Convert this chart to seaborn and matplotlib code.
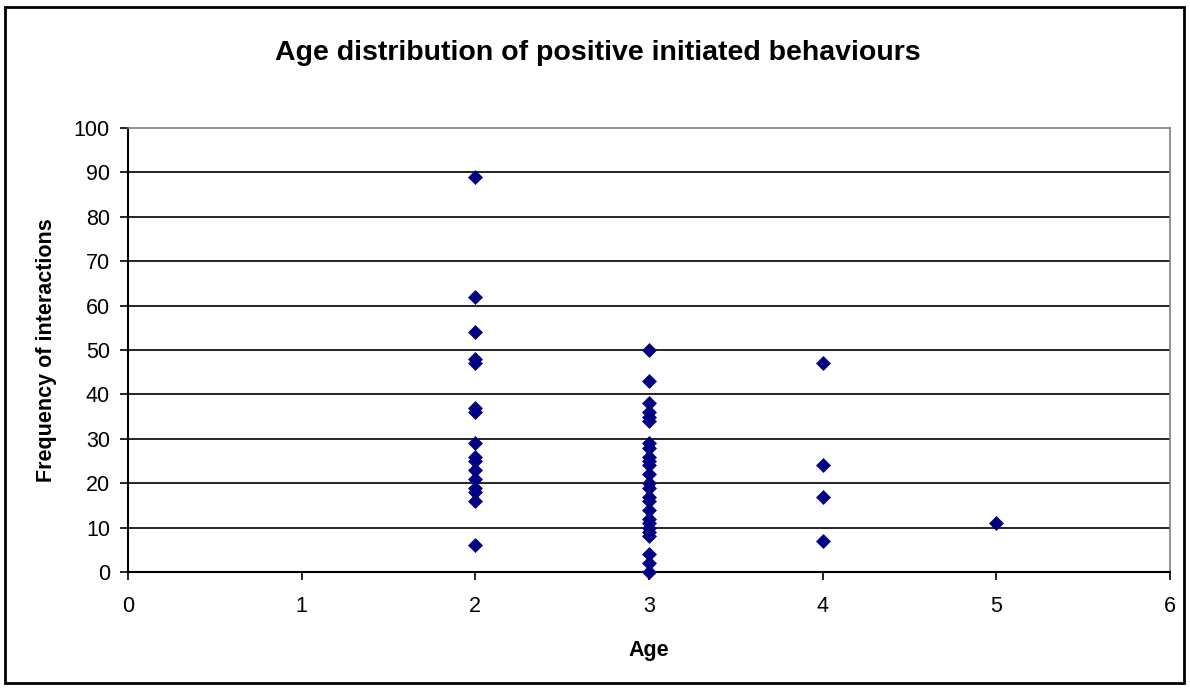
import matplotlib
matplotlib.use("Agg")
import matplotlib.pyplot as plt
from matplotlib.patches import Rectangle
import seaborn as sns
import pandas as pd

# ---- data ----
age2 = [89, 62, 54, 48, 47, 37, 36, 29, 26, 25, 23, 21, 19, 18, 16, 6]
age3 = [50, 43, 38, 36, 35, 34, 29, 28, 26, 25, 24, 22, 20, 19, 17, 16,
        14, 12, 11, 10, 9, 8, 4, 2, 0]
age4 = [47, 24, 17, 7]
age5 = [11]

title = "Age distribution of positive initiated behaviours"
xlabel = "Age"
ylabel = "Frequency of interactions"
xticks = [0, 1, 2, 3, 4, 5, 6]
yticks = list(range(0, 101, 10))

ages = [2] * len(age2) + [3] * len(age3) + [4] * len(age4) + [5] * len(age5)
freqs = age2 + age3 + age4 + age5
df = pd.DataFrame({"Age": ages, "Frequency": freqs})

sns.set_style("white")
plt.rcParams["font.family"] = ["Liberation Sans", "DejaVu Sans"]
plt.rcParams["text.color"] = "black"
plt.rcParams["axes.labelcolor"] = "black"
plt.rcParams["xtick.color"] = "black"
plt.rcParams["ytick.color"] = "black"

fig = plt.figure(figsize=(11.9, 6.88), dpi=100)
ax = fig.add_axes([128 / 1190, 1 - 572 / 688, (1170 - 128) / 1190, (572 - 128) / 688])

# grid lines
for v in yticks[1:-1]:
    ax.axhline(v, color="black", lw=1.2, zorder=1)

sns.scatterplot(data=df, x="Age", y="Frequency", marker="D", s=58,
                color="#000080", edgecolor="#000080", linewidth=0, ax=ax,
                zorder=3, clip_on=False)

ax.set_xlim(0, 6)
ax.set_ylim(0, 100)
ax.set_xticks(xticks)
ax.set_yticks(yticks)
ax.tick_params(axis="both", direction="out", length=6, width=1.2, colors="black",
               labelsize=15.5, labelcolor="black")
ax.tick_params(axis="x", pad=11)
ax.tick_params(axis="y", pad=7)
ax.xaxis.set_ticks_position("bottom")
ax.yaxis.set_ticks_position("left")

for side in ["left", "bottom"]:
    ax.spines[side].set_color("black")
    ax.spines[side].set_linewidth(1.5)
for side in ["top", "right"]:
    ax.spines[side].set_color("#808080")
    ax.spines[side].set_linewidth(1.2)

ax.set_xlabel(xlabel, fontsize=15.5, fontweight="bold", labelpad=17, color="black")
ax.set_ylabel(ylabel, fontsize=15.5, fontweight="bold", labelpad=12, color="black")

fig.text(598 / 1190, 1 - 53 / 688, title, ha="center", va="center",
         fontsize=20.5, fontweight="bold", color="black")

fig.patches.append(Rectangle((5 / 1190, 1 - 683 / 688), 1179 / 1190, 676 / 688,
                             transform=fig.transFigure, fill=False,
                             edgecolor="black", lw=2))

fig.savefig("out.png", dpi=100, facecolor="white")
